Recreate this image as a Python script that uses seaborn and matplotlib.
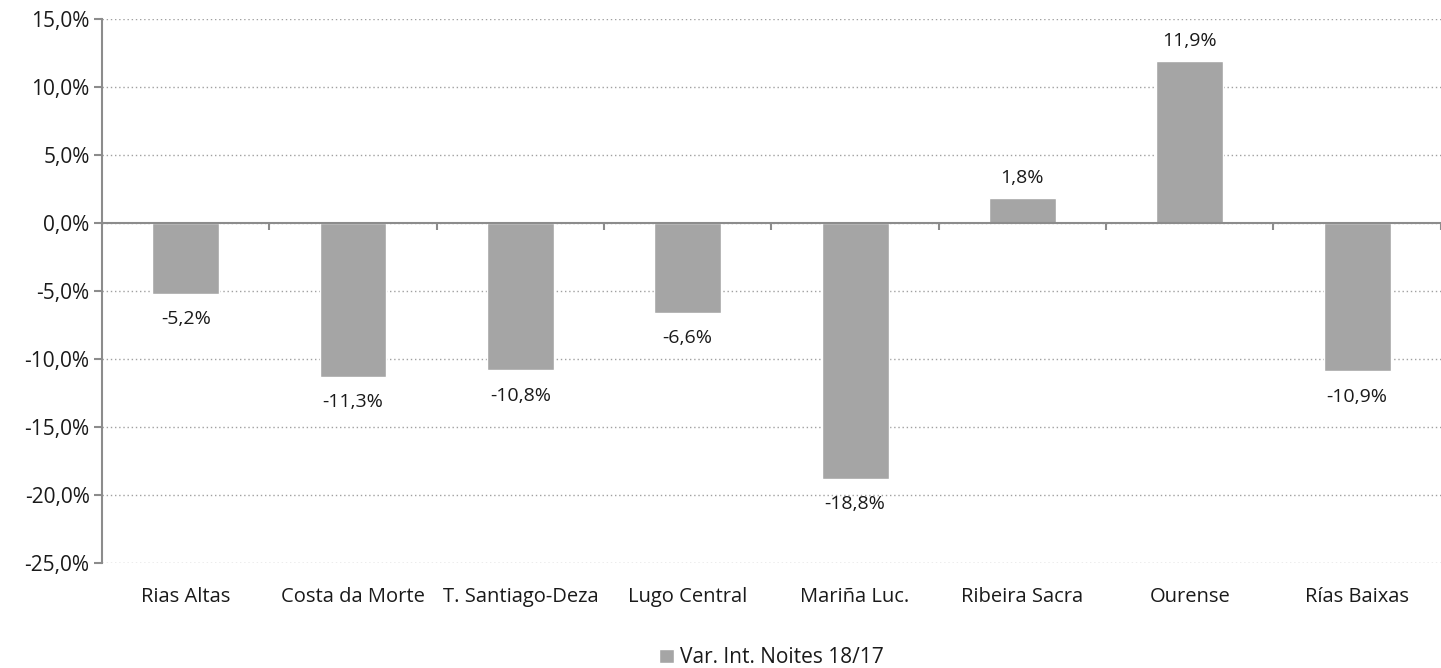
import pandas as pd
import numpy as np
import matplotlib.pyplot as plt
import seaborn as sns

# --- DATA ---
zonas = ["Rias Altas", "Costa da Morte", "T. Santiago-Deza", "Lugo Central",
         "Mariña Luc.", "Ribeira Sacra", "Ourense", "Rías Baixas"]
variacion = [-5.2, -11.3, -10.8, -6.6, -18.8, 1.8, 11.9, -10.9]
serie = "Var. Int. Noites 18/17"
yticks = [-25, -20, -15, -10, -5, 0, 5, 10, 15]

df = pd.DataFrame({"zona": zonas, "var": variacion})

# --- STYLE ---
sns.set_theme(style="white")
plt.rcParams['font.family'] = ['Open Sans', 'DejaVu Sans']
bar_color = "#a5a5a5"
axis_color = "#8c8c8c"
text_color = "#1a1a1a"

fig = plt.figure(figsize=(14.41, 6.68), dpi=100)
ax = fig.add_axes([0.0708, 0.157, 0.929, 0.815])

sns.barplot(data=df, x="zona", y="var", color=bar_color, width=0.4,
            saturation=1, label=serie, ax=ax, zorder=3)

ax.set_ylim(-25, 15)
ax.set_xlim(-0.5, len(zonas) - 0.5)
ax.set_yticks(yticks)
ax.set_yticklabels([f"{v:.1f}%".replace(".", ",") for v in yticks], fontsize=15, color=text_color)
ax.set_xticks(range(len(zonas)))
ax.set_xticklabels(zonas, fontsize=14.5, color=text_color)
ax.set_xlabel("")
ax.set_ylabel("")

# gridlines
ax.yaxis.grid(True, linestyle=(0, (1, 2)), color="#a0a0a0", linewidth=1, zorder=0)
ax.xaxis.grid(False)

# spines
for s in ["top", "right", "bottom"]:
    ax.spines[s].set_visible(False)
ax.spines["left"].set_color(axis_color)
ax.spines["left"].set_linewidth(1.5)
ax.tick_params(axis="y", length=6, width=1.5, color=axis_color, left=True, pad=3)
ax.tick_params(axis="x", length=0, pad=17)

# zero axis line with category separators
ax.axhline(0, color=axis_color, linewidth=1.5, zorder=4)
bounds = np.arange(len(zonas) + 1) - 0.5
ax.vlines(bounds[1:], 0, -0.55, color=axis_color, linewidth=1.5, zorder=4)

# data labels
for i, v in enumerate(variacion):
    txt = f"{v:.1f}%".replace(".", ",")
    if v >= 0:
        ax.annotate(txt, (i, v), xytext=(0, 8), textcoords="offset points",
                    ha="center", va="bottom", fontsize=14, color=text_color)
    else:
        ax.annotate(txt, (i, v), xytext=(0, -12), textcoords="offset points",
                    ha="center", va="top", fontsize=14, color=text_color)

# legend
leg = ax.legend(loc="center", bbox_to_anchor=(0.5, -0.174), frameon=False,
                fontsize=15, handlelength=0.7, handleheight=0.7, handletextpad=0.3)
for t in leg.get_texts():
    t.set_color(text_color)

fig.savefig("out.png", dpi=100)
